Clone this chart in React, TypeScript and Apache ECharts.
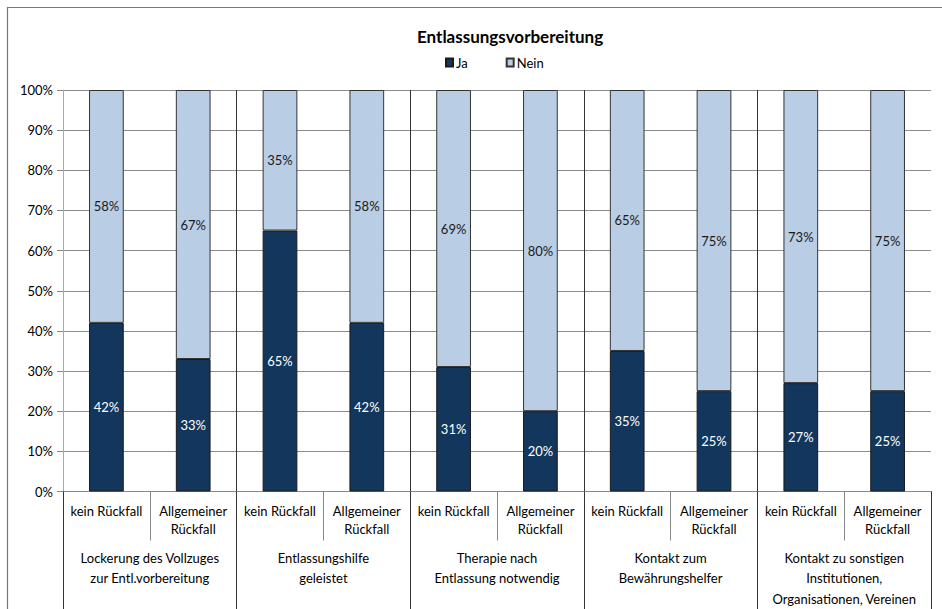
import React, { useEffect, useRef } from "react";
import * as echarts from "echarts";

const subCategories = [
  "kein Rückfall", "Allgemeiner\nRückfall",
  "kein Rückfall", "Allgemeiner\nRückfall",
  "kein Rückfall", "Allgemeiner\nRückfall",
  "kein Rückfall", "Allgemeiner\nRückfall",
  "kein Rückfall", "Allgemeiner\nRückfall",
];
const groupCategories = [
  "Lockerung des Vollzuges\nzur Entl.vorbereitung",
  "Entlassungshilfe\ngeleistet",
  "Therapie nach\nEntlassung notwendig",
  "Kontakt zum\nBewährungshelfer",
  "Kontakt zu sonstigen\nInstitutionen,\nOrganisationen, Vereinen",
];
const jaValues = [42, 33, 65, 42, 31, 20, 35, 25, 27, 25];
const neinValues = [58, 67, 35, 58, 69, 80, 65, 75, 73, 75];
const yTicks = { min: 0, max: 100, interval: 10 };

const FONT = "Lato";
const FS = 13;

export default function App() {
  const ref = useRef<HTMLDivElement>(null);
  useEffect(() => {
    if (!ref.current) return;
    const chart = echarts.init(ref.current, null, { renderer: "svg" });
    chart.setOption({
      animation: false,
      backgroundColor: "#fff",
      textStyle: { fontFamily: FONT },
      title: {
        text: "Entlassungsvorbereitung",
        left: 412,
        top: 23,
        textStyle: { fontFamily: FONT, fontSize: 17, fontWeight: "bold", color: "#000" },
      },
      legend: {
        left: 440,
        top: 51,
        itemWidth: 7,
        itemHeight: 8,
        itemGap: 38,
        icon: "rect",
        textStyle: { fontFamily: FONT, fontSize: FS, color: "#000", padding: [0, 0, 0, -2] },
        data: ["Ja", "Nein"],
      },
      graphic: [
        {
          type: "rect",
          shape: { x: 7.5, y: 7.5, width: 1000, height: 1000 },
          style: { fill: "none", stroke: "#777", lineWidth: 1.2 },
          silent: true,
        },
      ],
      grid: { left: 63, right: 11, top: 90, bottom: 117.5, containLabel: false },
      xAxis: [
        {
          type: "category",
          data: subCategories,
          position: "bottom",
          axisLine: { show: true, lineStyle: { color: "#888" } },
          axisTick: { show: true, interval: 0, length: 49, lineStyle: { color: "#888" } },
          axisLabel: {
            interval: 0,
            margin: 10,
            fontFamily: FONT,
            fontSize: FS,
            lineHeight: 18,
            color: "#000",
          },
          splitLine: { show: false },
        },
        {
          type: "category",
          data: groupCategories,
          position: "bottom",
          axisLine: { show: false },
          axisTick: { show: true, interval: 0, length: 120, lineStyle: { color: "#333" } },
          axisLabel: {
            interval: 0,
            margin: 56,
            fontFamily: FONT,
            fontSize: FS,
            lineHeight: 20.5,
            color: "#000",
          },
          splitLine: {
            show: true,
            interval: 0,
            showMinLine: false,
            showMaxLine: false,
            lineStyle: { color: "#333", width: 1 },
          },
        },
      ],
      yAxis: {
        type: "value",
        min: yTicks.min,
        max: yTicks.max,
        interval: yTicks.interval,
        axisLine: { show: true, lineStyle: { color: "#aaa" } },
        axisTick: { show: true, length: 6, lineStyle: { color: "#888" } },
        axisLabel: {
          formatter: "{value}%",
          margin: 10,
          fontFamily: FONT,
          fontSize: FS,
          color: "#000",
        },
        splitLine: { show: true, lineStyle: { color: "#8c8c8c", width: 1 } },
      },
      series: [
        {
          name: "Ja",
          type: "bar",
          stack: "total",
          xAxisIndex: 0,
          barCategoryGap: "60%",
          data: jaValues,
          itemStyle: { color: "#12365C", borderColor: "#1a1a1a", borderWidth: 1 },
          label: {
            show: true,
            position: "inside",
            formatter: "{c}%",
            color: "#fff",
            fontFamily: FONT,
            fontSize: FS,
          },
        },
        {
          name: "Nein",
          type: "bar",
          stack: "total",
          xAxisIndex: 0,
          barCategoryGap: "60%",
          data: neinValues,
          itemStyle: { color: "#B9CDE5", borderColor: "#333", borderWidth: 1 },
          label: {
            show: true,
            position: "inside",
            formatter: "{c}%",
            color: "#1a1a1a",
            fontFamily: FONT,
            fontSize: FS,
          },
        },
      ],
    });
    return () => chart.dispose();
  }, []);
  return (
    <div
      ref={ref}
      style={{ position: "fixed", left: 0, top: 0, width: 942, height: 609 }}
    />
  );
}
